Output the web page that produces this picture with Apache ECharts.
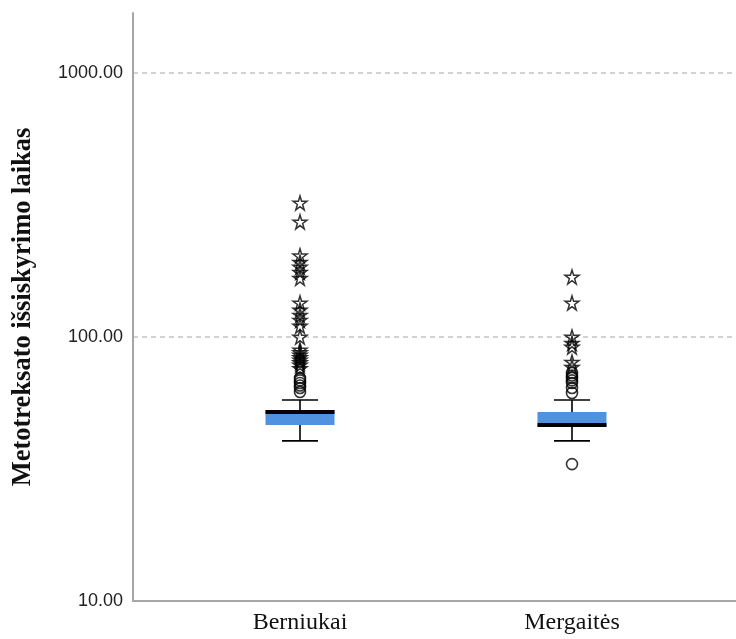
<!DOCTYPE html>
<html>
<head>
<meta charset="utf-8">
<script src="https://cdn.jsdelivr.net/npm/echarts@6/dist/echarts.min.js"></script>
<style>
html,body{margin:0;padding:0;background:#fff;}
#chart{width:736px;height:639px;}
</style>
</head>
<body>
<div id="chart"></div>
<script>
// ---- data ----
const categories = ['Berniukai', 'Mergaitės'];
// [lower whisker, Q1, median, Q3, upper whisker]
const boxBerniukai = [40.4, 46.4, 52.0, 52.9, 57.7];
const boxMergaites = [40.4, 45.6, 46.4, 52.0, 57.7];
// mild outliers (circles)
const circlesBerniukai = [70.0, 68.5, 67.0, 65.5, 64.1, 61.9];
const circlesMergaites = [73.1, 71.5, 70.0, 68.5, 67.0, 64.1, 61.4, 33.0];
// extreme outliers (stars)
const starsBerniukai = [322, 273, 203, 192, 184, 176, 167, 134.6, 126.6, 121, 115.8, 110, 100, 89.4, 87.4, 85.5, 83.6, 81.8, 80.0, 78.3, 76.0];
const starsMergaites = [168.7, 134.6, 100, 94.8, 91.6, 80.3, 76.9];
const yTicks = [10, 100, 1000];

// ---- build ----
const boxData = [[0].concat(boxBerniukai), [1].concat(boxMergaites)];
const circleData = circlesBerniukai.map(v => [0, v]).concat(circlesMergaites.map(v => [1, v]));
const starData = starsBerniukai.map(v => [0, v]).concat(starsMergaites.map(v => [1, v]));

const BOX_W = 69, CAP_W = 36;
const starPath = 'path://M50,2 L61,37 L98,37 L68,59 L79,95 L50,73 L21,95 L32,59 L2,37 L39,37 Z';

const chart = echarts.init(document.getElementById('chart'), null, {renderer: 'canvas'});
chart.setOption({
  backgroundColor: '#ffffff',
  animation: false,
  grid: {left: 133, right: 0, top: 13, bottom: 38},
  xAxis: {
    type: 'value',
    min: -0.614,
    max: 1.603,
    splitLine: {show: false},
    axisTick: {show: false},
    axisLine: {show: true, onZero: false, lineStyle: {color: '#a6a6a6', width: 2}},
    axisLabel: {
      customValues: [0, 1],
      formatter: v => categories[Math.round(v)],
      fontFamily: 'Liberation Serif',
      fontSize: 24,
      color: '#111',
      margin: 10
    }
  },
  yAxis: {
    type: 'log',
    logBase: 10,
    min: 10,
    max: 1688,
    name: 'Metotreksato išsiskyrimo laikas',
    nameLocation: 'middle',
    nameGap: 96,
    nameTextStyle: {fontFamily: 'Liberation Serif', fontWeight: 'bold', fontSize: 26.5, color: '#111'},
    axisLine: {show: true, onZero: false, lineStyle: {color: '#a6a6a6', width: 2}},
    axisTick: {show: false, customValues: yTicks},
    axisLabel: {
      customValues: yTicks,
      formatter: v => Number(v).toFixed(2),
      fontFamily: 'Liberation Sans',
      fontSize: 18,
      color: '#222',
      margin: 10
    },
    splitLine: {show: true, lineStyle: {color: '#c4c4c4', width: 1.5, type: [5, 4]}}
  },
  series: [
    {
      type: 'custom',
      data: boxData,
      encode: {x: 0, y: [1, 2, 3, 4, 5]},
      renderItem: function (params, api) {
        const x = api.value(0);
        const pLo = api.coord([x, api.value(1)]);
        const pQ1 = api.coord([x, api.value(2)]);
        const pMed = api.coord([x, api.value(3)]);
        const pQ3 = api.coord([x, api.value(4)]);
        const pHi = api.coord([x, api.value(5)]);
        const cx = pLo[0];
        const ls = {stroke: '#000', lineWidth: 1.6};
        return {
          type: 'group',
          children: [
            {type: 'line', shape: {x1: cx, y1: pQ3[1], x2: cx, y2: pHi[1]}, style: ls},
            {type: 'line', shape: {x1: cx - CAP_W / 2, y1: pHi[1], x2: cx + CAP_W / 2, y2: pHi[1]}, style: ls},
            {type: 'line', shape: {x1: cx, y1: pQ1[1], x2: cx, y2: pLo[1]}, style: ls},
            {type: 'line', shape: {x1: cx - CAP_W / 2, y1: pLo[1], x2: cx + CAP_W / 2, y2: pLo[1]}, style: ls},
            {type: 'rect', shape: {x: cx - BOX_W / 2, y: pQ3[1], width: BOX_W, height: pQ1[1] - pQ3[1]}, style: {fill: '#5192e0'}},
            {type: 'line', shape: {x1: cx - BOX_W / 2, y1: pMed[1], x2: cx + BOX_W / 2, y2: pMed[1]}, style: {stroke: '#000', lineWidth: 4}}
          ]
        };
      }
    },
    {
      type: 'scatter',
      data: circleData,
      symbol: 'circle',
      symbolSize: 11,
      itemStyle: {color: 'rgba(255,255,255,0)', borderColor: '#000', borderWidth: 1.6}
    },
    {
      type: 'scatter',
      data: starData,
      symbol: starPath,
      symbolSize: 14,
      itemStyle: {color: 'rgba(255,255,255,0)', borderColor: '#000', borderWidth: 1.5}
    }
  ]
});
</script>
</body>
</html>
